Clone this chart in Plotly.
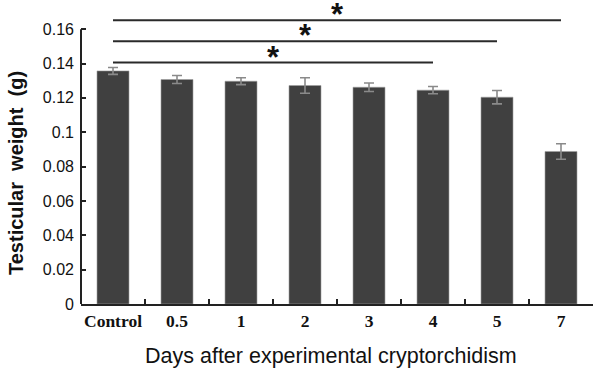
import plotly.graph_objects as go

categories = ["Control", "0.5", "1", "2", "3", "4", "5", "7"]
weights = [0.1357, 0.1307, 0.1297, 0.1272, 0.1262, 0.1245, 0.1204, 0.0888]
errors = [0.0020, 0.0023, 0.0020, 0.0045, 0.0025, 0.0021, 0.0039, 0.0045]
y_ticks = [0, 0.02, 0.04, 0.06, 0.08, 0.1, 0.12, 0.14, 0.16]
y_tick_labels = ["0", "0.02", "0.04", "0.06", "0.08", "0.1", "0.12", "0.14", "0.16"]
sig_start = "Control"
sig_end = ["4", "5", "7"]
sig_level = [0.1406, 0.1530, 0.1652]
sig_mark = "*"
y_title = "Testicular  weight  (g)"
x_title = "Days after experimental cryptorchidism"

W, H = 596, 368
L, R, T, B = 81, 3, 12, 64
y_max = 0.17

fig = go.Figure()
fig.add_trace(go.Bar(
    x=categories, y=weights, width=0.5,
    marker=dict(color="#404040", line=dict(color="#a0a0a0", width=0.6)),
    error_y=dict(type="data", array=errors, visible=True, color="#8a8a8a",
                 thickness=1.6, width=5),
    showlegend=False,
))

for end, lvl in zip(sig_end, sig_level):
    fig.add_trace(go.Scatter(
        x=[sig_start, end], y=[lvl, lvl], mode="lines",
        line=dict(color="#2a2a2a", width=2), showlegend=False,
        cliponaxis=False, hoverinfo="skip",
    ))
    i0 = categories.index(sig_start)
    i1 = categories.index(end)
    fig.add_annotation(
        x=(i0 + i1) / 2, y=lvl, xref="x", yref="y", text="<b>%s</b>" % sig_mark,
        showarrow=False, yanchor="bottom", yshift=-14,
        font=dict(family="Liberation Sans", size=31, color="#111"),
    )

# y axis line from 0 to 0.16 only
fig.add_shape(type="line", xref="paper", yref="y", x0=0, x1=0,
              y0=y_ticks[0], y1=y_ticks[-1], line=dict(color="#222", width=2))

plot_w = W - L - R
plot_h = H - T - B
# y-axis title as an annotation
fig.add_annotation(
    xref="paper", yref="paper", x=(16 - L) / plot_w, y=(H - B - 173) / plot_h,
    text="<b>%s</b>" % y_title, textangle=-90, showarrow=False,
    xanchor="center", yanchor="middle",
    font=dict(family="Liberation Sans", size=20, color="#111"),
)
# x-axis title as an annotation
fig.add_annotation(
    xref="paper", yref="paper", x=(331 - L) / plot_w, y=0,
    yanchor="top", xanchor="center", yshift=-38,
    text=x_title, showarrow=False,
    font=dict(family="Liberation Sans", size=21.5, color="#111"),
)

fig.update_layout(
    width=W, height=H,
    margin=dict(l=L, r=R, t=T, b=B),
    paper_bgcolor="white", plot_bgcolor="white",
    bargap=0.5,
)
fig.update_xaxes(
    type="category", categoryorder="array", categoryarray=categories,
    automargin=False, tickangle=0,
    showline=True, linecolor="#222", linewidth=2,
    ticks="inside", ticklen=5, tickwidth=1.5, tickcolor="#222",
    tickson="boundaries", showgrid=False,
    tickfont=dict(family="Liberation Serif", size=17.5, color="#111", weight="bold"),
)
fig.update_yaxes(
    range=[0, y_max], showline=False, showgrid=False, zeroline=False,
    automargin=False,
    tickvals=y_ticks, ticktext=y_tick_labels,
    ticks="inside", ticklen=5, tickwidth=1.5, tickcolor="#222",
    tickfont=dict(family="Liberation Sans", size=16, color="#111"),
    ticklabelstandoff=6,
)

fig.write_html("out.html", config={"displayModeBar": False},
               post_script="document.body.style.margin='0';")
